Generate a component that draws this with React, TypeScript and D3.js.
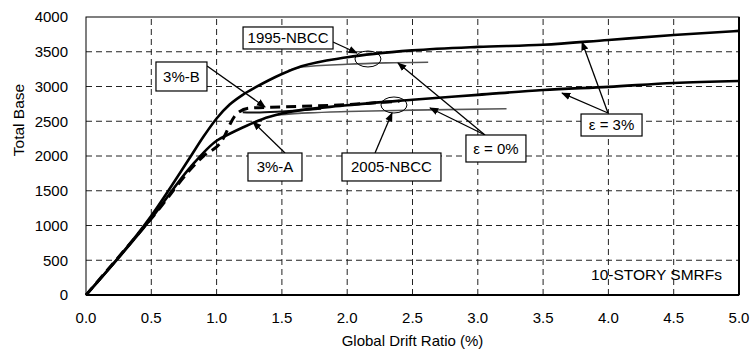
import * as d3 from "d3";

// pushover curves, base shear vs global drift ratio
const drift1995e3 = [0, 0.5, 0.8, 0.9, 1.0, 1.1, 1.2, 1.3, 1.4, 1.5, 1.65, 2.0, 2.5, 3.0, 3.5, 4.0, 4.5, 5.0];
const shear1995e3 = [0, 1140, 1990, 2280, 2540, 2740, 2880, 2990, 3090, 3180, 3290, 3420, 3520, 3570, 3600, 3670, 3740, 3800];

const drift1995e0 = [1.55, 1.65, 2.0, 2.3, 2.62];
const shear1995e0 = [3230, 3280, 3320, 3340, 3350];

const drift2005e3 = [0, 0.5, 0.8, 1.0, 1.1, 1.2, 1.35, 1.5, 2.0, 2.5, 3.0, 3.5, 4.0, 4.5, 5.0];
const shear2005e3 = [0, 1100, 1840, 2220, 2320, 2410, 2530, 2610, 2730, 2810, 2880, 2950, 2995, 3050, 3080];

const drift2005e0 = [1.45, 1.7, 2.0, 2.5, 3.22];
const shear2005e0 = [2590, 2620, 2640, 2660, 2680];

const drift3B = [0, 0.5, 0.9, 1.03, 1.15, 1.25, 1.5, 2.0, 2.4];
const shear3B = [0, 1100, 2000, 2190, 2600, 2690, 2705, 2740, 2790];

const drift3A = [1.2, 1.3, 1.5, 1.8];
const shear3A = [2630, 2625, 2640, 2680];

const xTicks = [0, 0.5, 1, 1.5, 2, 2.5, 3, 3.5, 4, 4.5, 5];
const yTicks = [0, 500, 1000, 1500, 2000, 2500, 3000, 3500, 4000];

// callout boxes: label, centre (drift, shear), box size in px
const boxLabels = ["1995-NBCC", "3%-B", "3%-A", "2005-NBCC", "ε = 0%", "ε = 3%"];
const boxX = [1.547, 0.731, 1.447, 2.339, 3.139, 4.024];
const boxY = [3698, 3144, 1842, 1842, 2108, 2446];
const boxW = [90, 51, 54, 99, 60, 61];
const boxH = [22, 29, 28, 28, 27, 22];

// leader lines [x1, y1, x2, y2]
const leaders: [number, number, number, number][] = [
  [1.891, 3640, 2.075, 3482],
  [0.927, 3295, 1.371, 2705],
  [1.524, 2043, 1.279, 2489],
  [2.213, 2043, 2.343, 2619],
  [3.055, 2302, 2.389, 3338],
  [3.055, 2302, 2.634, 2691],
  [3.997, 2619, 3.798, 3640],
  [3.997, 2619, 3.645, 2906],
];

const ellipseX = [2.159, 2.358];
const ellipseY = [3396, 2734];

const W = 751;
const H = 352;
const M = { top: 17, right: 12, bottom: 57, left: 86 };
const FONT = "Liberation Sans, Arial, sans-serif";

export default function App() {
  const x = d3.scaleLinear().domain([0, 5]).range([M.left, W - M.right]);
  const y = d3.scaleLinear().domain([0, 4000]).range([H - M.bottom, M.top]);

  const line = d3
    .line<[number, number]>()
    .x((d) => x(d[0]))
    .y((d) => y(d[1]))
    .curve(d3.curveMonotoneX);

  const zipPts = (a: number[], b: number[]) => a.map((v, i) => [v, b[i]] as [number, number]);

  const [x0, x1] = x.range();
  const [y0, y1] = y.range();

  return (
    <div style={{ position: "absolute", left: 0, top: 0 }}>
      <svg width={W} height={H} style={{ display: "block", background: "#fff" }}>
        <defs>
          <marker id="arr" viewBox="0 0 10 10" refX="9" refY="5" markerWidth="7" markerHeight="7" orient="auto">
            <path d="M0,1 L10,5 L0,9 z" fill="#000" />
          </marker>
        </defs>

        {/* grid */}
        {xTicks.slice(1, -1).map((t) => (
          <line key={"gx" + t} x1={x(t)} x2={x(t)} y1={y0} y2={y1} stroke="#222" strokeWidth={1} strokeDasharray="6,4" />
        ))}
        {yTicks.slice(1, -1).map((t) => (
          <line key={"gy" + t} x1={x0} x2={x1} y1={y(t)} y2={y(t)} stroke="#222" strokeWidth={1} strokeDasharray="6,4" />
        ))}
        <rect x={x0} y={y1} width={x1 - x0} height={y0 - y1} fill="none" stroke="#000" strokeWidth={1} />
        <line x1={x0} x2={x1} y1={y0} y2={y0} stroke="#000" strokeWidth={2} />
        <line x1={x1} x2={x1} y1={y0} y2={y1} stroke="#000" strokeWidth={2} />

        {/* tick labels */}
        {yTicks.map((t) => (
          <text key={"ty" + t} x={x0 - 18} y={y(t)} dy="0.35em" textAnchor="end" fontSize={15} fontFamily={FONT}>
            {t}
          </text>
        ))}
        {xTicks.map((t) => (
          <text key={"tx" + t} x={x(t)} y={y0 + 28} textAnchor="middle" fontSize={15} fontFamily={FONT}>
            {t.toFixed(1)}
          </text>
        ))}
        <text x={(x0 + x1) / 2} y={H - 6} textAnchor="middle" fontSize={15} fontFamily={FONT}>
          Global Drift Ratio (%)
        </text>
        <text transform={`translate(24,120) rotate(-90)`} textAnchor="middle" fontSize={15.5} fontFamily={FONT}>
          Total Base
        </text>
        <text x={x(4.87)} y={y(300)} dy="0.35em" textAnchor="end" fontSize={15.5} fontFamily={FONT}>
          10-STORY SMRFs
        </text>

        {/* curves */}
        <path d={line(zipPts(drift1995e0, shear1995e0)) ?? ""} fill="none" stroke="#555" strokeWidth={1.6} />
        <path d={line(zipPts(drift2005e0, shear2005e0)) ?? ""} fill="none" stroke="#555" strokeWidth={1.6} />
        <path d={line(zipPts(drift3A, shear3A)) ?? ""} fill="none" stroke="#111" strokeWidth={2} />
        <path d={line(zipPts(drift3B, shear3B)) ?? ""} fill="none" stroke="#000" strokeWidth={3} strokeDasharray="10,6" />
        <path d={line(zipPts(drift1995e3, shear1995e3)) ?? ""} fill="none" stroke="#000" strokeWidth={2.6} />
        <path d={line(zipPts(drift2005e3, shear2005e3)) ?? ""} fill="none" stroke="#000" strokeWidth={2.6} />

        {/* ellipses */}
        {ellipseX.map((ex, i) => (
          <ellipse key={"el" + i} cx={x(ex)} cy={y(ellipseY[i])} rx={13} ry={8} fill="none" stroke="#000" strokeWidth={1} />
        ))}

        {/* leaders */}
        {leaders.map((l, i) => (
          <line
            key={"ld" + i}
            x1={x(l[0])}
            y1={y(l[1])}
            x2={x(l[2])}
            y2={y(l[3])}
            stroke="#000"
            strokeWidth={1.3}
            markerEnd="url(#arr)"
          />
        ))}

        {/* boxes */}
        {boxLabels.map((lab, i) => {
          const cx = x(boxX[i]);
          const cy = y(boxY[i]);
          return (
            <g key={"bx" + i}>
              <rect x={cx - boxW[i] / 2} y={cy - boxH[i] / 2} width={boxW[i]} height={boxH[i]} fill="#fff" stroke="#000" strokeWidth={1.2} />
              <text x={cx} y={cy} dy="0.36em" textAnchor="middle" fontSize={15} fontFamily={FONT}>
                {lab}
              </text>
            </g>
          );
        })}
      </svg>
    </div>
  );
}
